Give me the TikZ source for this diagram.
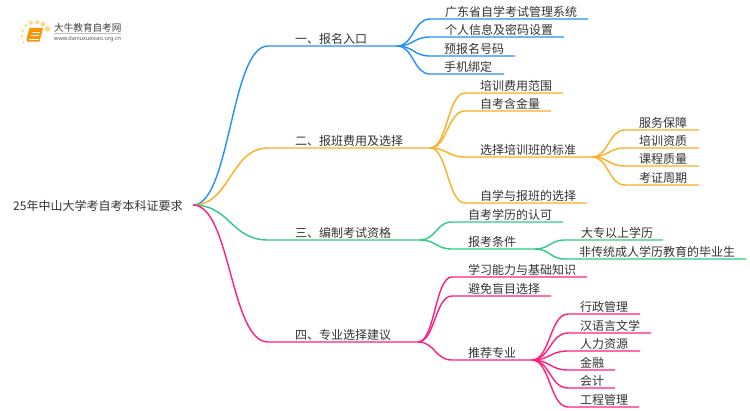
\documentclass[tikz,border=0pt]{standalone}
\usepackage{fontspec}
\setmainfont{Noto Sans CJK SC}
\newfontfamily\latinfont{Noto Sans}
\usetikzlibrary{calc}
\definecolor{cblue}{HTML}{2490FF}
\definecolor{corange}{HTML}{FBB022}
\definecolor{cgreen}{HTML}{2ECC82}
\definecolor{cpink}{HTML}{FF1F80}
\definecolor{ctext}{HTML}{333333}
\definecolor{dotc}{HTML}{FFD98A}
\tikzset{
  lbl/.style={anchor=west,inner sep=0pt,yshift=-0.8pt,font=\fontsize{12}{12}\selectfont,text=ctext},
  lblc/.style={lbl,anchor=center},
  limbline/.style={line width=1.4pt,line cap=butt},
  dotmark/.style={fill=dotc,draw=none},
}
% #1 colour, #2 start, #3 bend end, #4 line end
\newcommand{\limbdraw}[4]{%
  \coordinate (mid) at ($(#2)!.5!(#3)$);
  \draw[limbline,#1] (#2) .. controls (mid|-#2) and (mid|-#3) .. (#3) -- (#4);
}
\begin{document}
\begin{tikzpicture}[x=1pt,y=-1pt]
\useasboundingbox (0,0) rectangle (750,410);
\fill[white] (0,0) rectangle (750,410);

% logo
\foreach \px/\py/\pr in {47.7/29/2.8,42.7/24.3/2.4,37.3/22.3/2.2,31/22.7/2.1,26/25.3/1.8,22.7/30.7/1.6,22/36/1.4,23.3/42.3/1.2}
  \fill[dotmark] (\px,\py) circle[radius=\pr];
\fill[orange!85!yellow] (29.5,28) -- (43,28) -- (39.5,41.5) -- (27,41.5) -- (26.5,39) -- cycle;
\draw[white,line width=0.7pt] (32,32) -- (39.5,32) (31,35) -- (38.7,35);
\draw[white,line width=0.6pt] (28.5,39) -- (38.5,39);
\node[lbl,font=\fontsize{9.6}{10}\selectfont,text=black!75] (logoname) at (54,27) {大牛教育自考网};
\draw[black!25,line width=0.5pt] (54,33) -- (121,33);
\node[lbl,font=\latinfont\fontsize{5.5}{6}\selectfont,text=black!65] (logourl) at (54,38.5) {www.daniuxuexiao.org.cn};

% root
\node[lbl] (root) at (13,205) {25年中山大学考自考本科证要求};
\coordinate (r) at (193,205);

% hubs and ends
\coordinate (b1) at (268,46);   \coordinate (h1) at (397,46);
\coordinate (b2) at (268,148);  \coordinate (h2) at (430,148);
\coordinate (b3) at (268,240);  \coordinate (h3) at (420,240);
\coordinate (b4) at (268,342);  \coordinate (h4) at (418,342);

% branch 1
\limbdraw{cblue}{r}{b1}{h1}
\node[lbl] (t1) at (295,38) {一、报名入口};
\foreach \n/\y/\e/\tx/\s in {a/19/588/445/广东省自学考试管理系统,b/37/564/445/个人信息及密码设置,c/56/515/444/预报名号码,d/74/504/444/手机绑定}{
  \coordinate (k\n) at (430,\y);
  \coordinate (e\n) at (\e,\y);
  \limbdraw{cblue}{h1}{k\n}{e\n}
  \node[lbl] (t1\n) at (\tx,\y-8) {\s};
}

% branch 2
\limbdraw{corange}{r}{b2}{h2}
\node[lbl] (t2) at (295,140) {二、报班费用及选择};
\coordinate (h2c) at (592,157);
\foreach \n/\y/\e/\s in {a/93/563/培训费用范围,b/111/551/自考含金量,c/157/592/选择培训班的标准,d/203/587/自学与报班的选择}{
  \coordinate (k\n) at (465,\y);
  \coordinate (e\n) at (\e,\y);
  \limbdraw{corange}{h2}{k\n}{e\n}
  \node[lbl] (t2\n) at (480,\y-8) {\s};
}
\foreach \n/\y/\s in {a/130/服务保障,b/148/培训资质,c/166/课程质量,d/185/考证周期}{
  \coordinate (k\n) at (625,\y);
  \coordinate (e\n) at (699,\y);
  \limbdraw{corange}{h2c}{k\n}{e\n}
  \node[lblc] (t2c\n) at (663,\y-8) {\s};
}

% branch 3
\limbdraw{cgreen}{r}{b3}{h3}
\node[lbl] (t3) at (295,232) {三、编制考试资格};
\coordinate (h3b) at (535,249);
\foreach \n/\y/\e/\s in {a/222/563/自考学历的认可,b/249/535/报考条件}{
  \coordinate (k\n) at (452,\y);
  \coordinate (e\n) at (\e,\y);
  \limbdraw{cgreen}{h3}{k\n}{e\n}
  \node[lbl] (t3\n) at (468,\y-8) {\s};
}
\foreach \n/\y/\e/\tx/\s in {a/240/663/581/大专以上学历,b/259/746/579/非传统成人学历教育的毕业生}{
  \coordinate (k\n) at (565,\y);
  \coordinate (e\n) at (\e,\y);
  \limbdraw{cgreen}{h3b}{k\n}{e\n}
  \node[lbl] (t3b\n) at (\tx,\y-8) {\s};
}

% branch 4
\limbdraw{cpink}{r}{b4}{h4}
\node[lbl] (t4) at (295,334) {四、专业选择建议};
\coordinate (h4c) at (532,360);
\foreach \n/\y/\e/\s in {a/277/587/学习能力与基础知识,b/296/551/避免盲目选择,c/360/532/推荐专业}{
  \coordinate (k\n) at (452,\y);
  \coordinate (e\n) at (\e,\y);
  \limbdraw{cpink}{h4}{k\n}{e\n}
  \node[lbl] (t4\n) at (468,\y-8) {\s};
}
\foreach \n/\y/\e/\s in {a/314/640/行政管理,b/333/651/汉语言文学,c/351/640/人力资源,d/370/615/金融,e/388/615/会计,f/407/639/工程管理}{
  \coordinate (k\n) at (568,\y);
  \coordinate (e\n) at (\e,\y);
  \limbdraw{cpink}{h4c}{k\n}{e\n}
  \node[lbl] (t4c\n) at (580,\y-8) {\s};
}
\end{tikzpicture}
\end{document}
